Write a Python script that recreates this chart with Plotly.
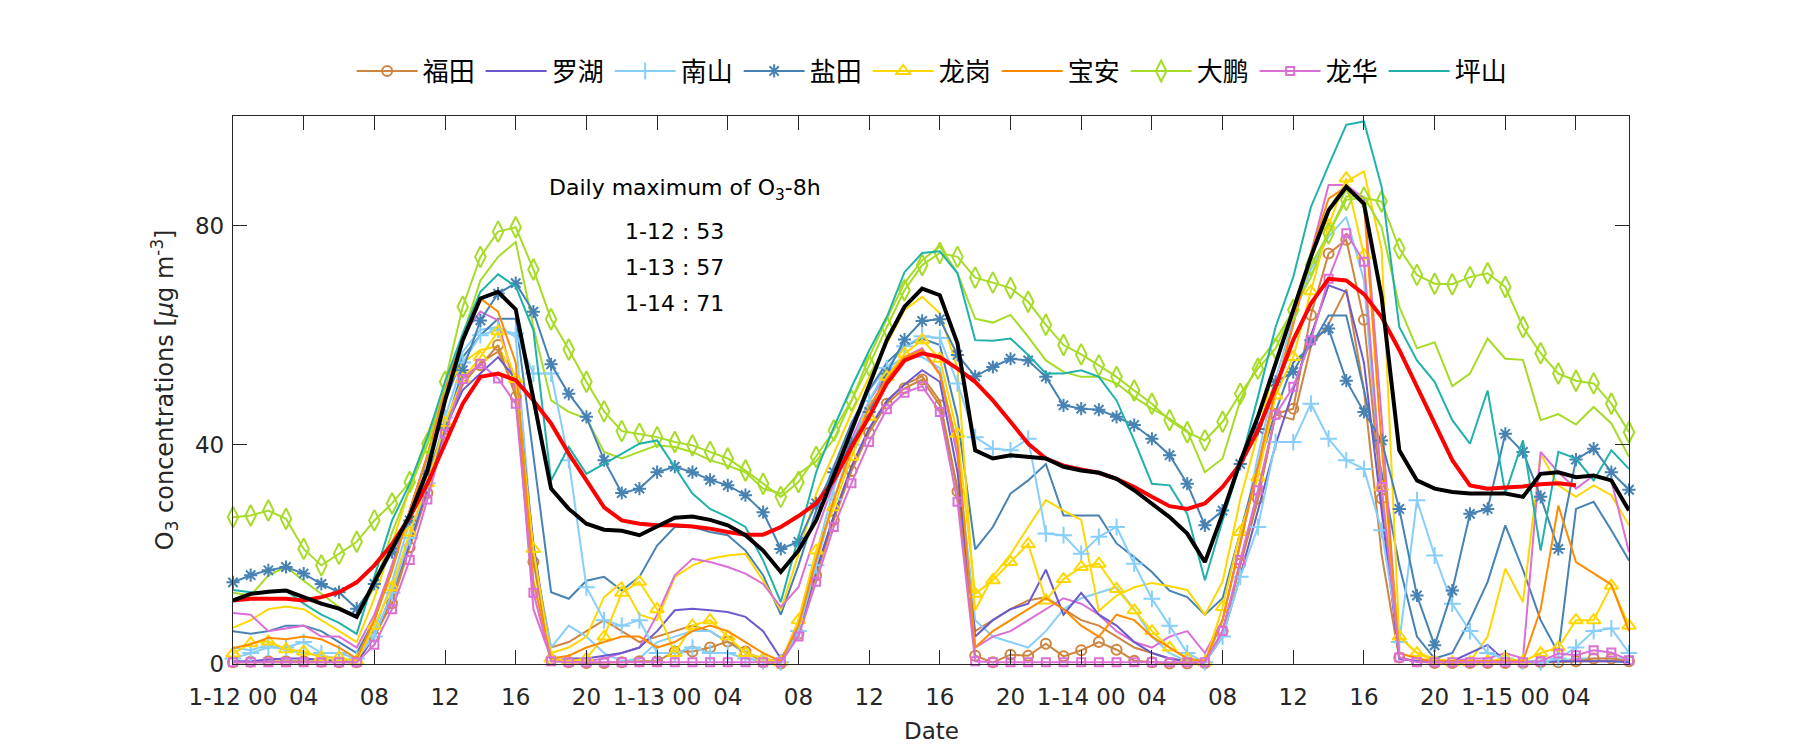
import plotly.graph_objects as go

HOURS = list(range(80))
TICK_HOURS = [0, 4, 8, 12, 16, 20, 24, 28, 32, 36, 40, 44, 48, 52, 56, 60, 64, 68, 72, 76]
TICK_LABELS = ["1-12 00", "04", "08", "12", "16", "20", "1-13 00", "04", "08", "12", "16", "20",
               "1-14 00", "04", "08", "12", "16", "20", "1-15 00", "04"]
Y_TICKS = [0, 40, 80]

futian = [0.3,0.4,0.5,0.5,0.5,0.4,0.3,0.3,5.0,11.1,
          21.3,31.2,42.9,52.4,54.5,58.2,48.7,18.6,0.8,0.3,
          0.2,0.2,0.3,0.5,0.5,2.3,2.3,3.0,4.1,2.3,
          0.3,0.1,5.5,16.2,26.3,35.2,42.2,47.5,50.3,51.9,
          47.2,31.5,1.5,0.3,1.7,1.5,3.7,1.4,2.5,4.0,
          2.6,0.6,0.3,0.1,0.1,0.2,6.0,18.3,30.2,45.6,
          46.6,63.7,74.9,77.4,62.8,30.2,1.2,0.5,0.2,0.2,
          0.2,0.2,0.2,0.2,0.3,0.3,0.5,1.0,1.0,0.5]
luohu = [0.5,0.5,0.8,1.0,1.0,0.8,0.5,0.3,5.0,13.0,
         22.0,32.0,43.0,50.0,53.0,56.0,52.0,22.0,0.5,1.0,
         1.0,1.5,2.0,3.0,6.0,9.8,10.1,9.8,9.5,8.6,
         6.0,1.0,6.0,17.0,27.0,36.0,43.0,48.0,51.0,53.6,
         51.5,35.0,5.0,8.0,10.0,11.0,17.2,9.0,13.0,9.0,
         7.0,4.0,2.0,1.0,0.5,0.3,5.0,16.0,28.0,40.0,
         50.0,60.0,69.1,67.9,55.0,28.0,1.0,0.5,0.3,0.5,
         2.0,3.5,0.5,0.3,0.3,0.5,0.5,0.5,0.5,0.3]
nanshan = [1.0,2.0,3.0,3.0,4.0,2.0,2.0,1.0,5.0,13.0,
           23.0,33.0,45.0,55.0,60.0,61.0,60.3,53.0,53.0,37.2,
           14.0,8.0,7.0,8.0,2.0,2.0,3.0,2.0,2.0,1.0,
           0.5,0.3,6.0,18.0,30.0,40.0,48.0,54.0,58.0,59.8,
           59.5,51.2,41.4,39.3,39.0,41.1,23.8,23.5,20.1,23.2,
           25.0,18.3,11.9,7.0,2.0,0.3,5.0,15.9,25.0,40.5,
           40.5,47.5,41.1,37.2,35.6,24.4,4.0,29.9,19.8,11.0,
           6.0,2.0,1.0,0.5,0.3,1.0,3.0,6.0,6.5,2.0]
yantian = [14.9,16.2,17.1,17.7,16.5,14.6,13.1,10.1,14.6,20.4,
           26.2,34.7,43.0,53.6,62.7,67.6,69.5,64.3,54.7,49.3,
           45.1,37.2,31.2,32.0,35.0,36.0,35.0,33.6,32.6,30.8,
           27.7,21.0,22.3,29.3,35.0,40.2,46.0,53.0,59.2,62.6,
           62.9,56.4,52.5,54.2,55.7,55.4,52.4,47.2,46.6,46.4,
           45.1,43.6,41.1,38.1,32.9,25.3,28.0,36.5,42.9,51.5,
           53.3,59.1,61.2,51.7,46.0,40.8,28.3,12.5,3.4,13.4,
           27.4,28.3,42.0,38.7,30.5,21.0,37.3,39.3,35.0,31.8]
longgang = [1.9,3.8,4.1,2.7,2.3,1.2,1.2,0.5,7.0,14.0,
            24.0,33.0,44.0,52.0,56.0,60.7,52.0,21.0,1.0,0.5,
            1.0,5.0,13.0,15.0,10.0,2.0,7.0,8.0,5.0,2.0,
            1.0,0.3,8.0,20.7,28.6,37.8,45.1,52.4,56.6,59.1,
            55.7,42.0,12.8,15.3,18.6,21.9,11.6,15.5,17.7,18.3,
            13.7,9.8,6.0,3.0,1.0,0.3,10.4,24.1,34.1,49.0,
            56.0,68.0,80.0,88.6,74.6,32.3,5.0,2.0,0.5,0.3,
            0.3,0.5,1.0,0.5,2.0,3.0,8.0,8.0,14.3,7.0]
baoan = [2.9,3.6,4.8,4.5,5.0,4.5,3.0,1.0,8.0,17.0,
         28.0,38.0,50.0,60.0,66.7,64.3,55.0,15.0,1.0,1.5,
         3.0,4.0,5.0,5.0,3.0,4.0,6.0,7.0,6.0,4.0,
         2.0,0.5,7.0,19.0,30.0,39.0,47.0,52.0,56.0,57.3,
         52.8,40.0,3.0,6.0,8.0,10.0,12.0,10.0,7.0,5.0,
         9.0,8.0,5.0,3.0,1.0,0.5,8.0,22.0,36.0,50.0,
         62.0,75.0,84.9,87.1,84.0,40.0,2.0,1.0,0.5,0.5,
         0.5,0.5,0.5,0.5,10.0,28.9,18.6,16.5,14.5,6.0]
dapeng = [26.8,27.1,28.0,26.5,21.0,18.0,20.1,22.3,26.2,29.3,
          33.2,40.2,51.5,65.2,74.3,78.9,79.7,72.0,62.9,57.4,
          51.5,46.1,42.5,42.0,41.4,40.5,39.9,38.7,37.5,35.3,
          32.9,30.5,33.2,37.8,42.6,48.1,54.5,61.5,68.2,72.8,
          75.0,74.3,70.5,69.6,68.6,66.1,61.9,58.2,56.5,54.5,
          52.4,49.9,47.5,44.5,42.3,40.8,44.2,49.3,53.9,57.6,
          64.6,72.8,78.6,84.7,85.1,84.4,75.8,71.0,69.4,69.3,
          70.6,71.3,68.8,61.5,56.7,53.0,51.7,51.2,47.5,42.3]
longhua = [0.3,0.3,0.3,0.3,0.3,0.3,0.3,0.3,3.5,10.0,
           19.0,30.0,42.0,52.0,54.8,52.1,47.5,13.0,0.5,0.3,
           0.3,0.3,0.3,0.3,0.3,0.3,0.3,0.3,0.3,0.3,
           0.3,0.3,5.0,15.0,25.0,33.0,40.5,46.5,49.5,50.7,
           46.0,29.6,0.5,0.3,0.3,0.3,0.3,0.3,0.3,0.3,
           0.3,0.3,0.3,0.3,0.3,0.3,6.0,19.0,31.7,45.5,
           50.6,59.1,70.3,78.6,73.4,32.3,1.2,0.3,0.3,0.3,
           0.3,0.3,0.3,0.3,0.5,1.9,1.6,2.5,2.1,0.7]
pingshan = [13.5,13.1,13.2,13.4,11.0,9.0,7.5,5.5,15.9,26.2,
            32.9,41.4,51.5,60.3,67.9,71.1,68.9,60.9,33.5,39.6,
            34.7,36.5,38.4,40.2,40.8,36.0,31.1,28.3,26.8,25.0,
            18.9,11.3,23.2,35.0,43.2,50.5,57.2,63.3,71.5,75.0,
            75.3,71.3,59.1,59.0,59.4,56.4,53.0,53.0,53.6,52.4,
            48.1,40.8,32.9,32.6,27.4,15.3,26.2,36.5,48.7,61.5,
            70.6,83.4,91.0,98.4,99.0,87.1,61.5,55.4,51.5,44.5,
            40.2,49.9,31.1,40.8,20.7,38.7,37.5,33.5,39.0,35.6]

# second set of stations (same district colours, drawn without markers, not in legend)
futian_b = [0.3,0.3,0.3,0.3,0.3,0.3,0.3,0.3,5.0,12.0,
            22.0,32.0,43.0,51.0,55.0,57.0,50.0,20.0,3.0,4.0,
            6.0,8.0,6.0,4.0,5.0,6.0,7.0,6.0,4.0,2.0,
            1.0,0.5,6.0,17.0,27.0,36.0,43.0,48.0,51.0,52.5,
            48.0,32.0,6.0,8.0,10.0,11.6,12.2,10.0,8.0,7.0,
            5.0,3.0,2.0,1.0,0.5,0.3,6.0,18.0,30.0,45.5,
            44.6,58.0,62.0,68.4,50.0,20.0,1.0,0.5,0.5,0.5,
            0.5,0.5,0.5,0.5,0.5,0.5,0.5,0.5,0.5,0.5]
nanshan_b = [3.0,2.5,3.5,2.5,2.0,1.5,1.0,0.5,6.0,15.0,
             26.0,37.0,48.0,57.0,61.0,61.5,59.7,20.0,3.0,7.0,
             5.0,2.0,0.5,1.0,4.0,5.0,6.0,6.0,4.0,2.0,
             1.0,0.3,8.0,20.0,32.0,42.0,50.0,54.0,56.0,56.0,
             54.0,38.0,8.0,5.0,4.0,3.0,6.0,10.0,12.0,13.0,
             14.0,10.0,5.0,2.0,0.5,0.3,8.0,22.0,38.0,52.0,
             63.0,72.0,78.0,81.6,70.0,30.0,1.0,0.5,0.5,0.5,
             0.5,0.5,0.5,0.5,0.5,0.5,1.0,1.0,1.0,1.0]
yantian_b = [6.0,5.5,6.0,7.0,7.0,6.0,4.0,2.0,8.0,18.0,
             28.0,38.0,48.0,56.0,60.0,63.0,63.0,38.0,13.1,11.9,
             15.2,15.9,13.4,15.9,21.6,25.0,25.0,24.1,23.5,20.7,
             16.2,9.0,18.0,28.0,36.0,44.0,50.0,55.0,58.0,59.4,
             58.2,45.0,20.9,25.0,31.1,33.5,36.5,27.1,27.1,27.1,
             22.0,19.5,16.8,13.4,12.2,9.0,12.0,24.0,36.0,46.0,
             55.0,58.0,63.6,63.6,50.0,35.0,18.0,5.0,1.0,2.0,
             8.0,15.0,25.3,17.2,8.0,2.0,28.3,29.6,24.4,18.9]
longgang_b = [6.6,8.0,10.0,10.5,10.0,8.0,6.0,4.0,12.0,22.0,
              32.0,42.0,50.0,55.0,57.3,58.0,52.0,15.0,2.0,3.0,
              5.0,12.2,14.9,9.0,8.0,15.9,18.0,19.2,19.8,20.1,
              15.2,9.8,20.0,31.1,38.4,45.8,52.4,58.5,64.6,67.0,
              64.0,53.9,9.8,16.0,20.0,25.0,29.9,28.0,26.3,9.7,
              12.5,14.0,14.8,14.2,13.5,9.0,15.0,30.0,42.0,55.0,
              65.0,75.0,83.0,88.0,89.9,75.6,5.0,2.0,1.0,0.5,
              0.5,5.0,17.4,11.3,38.3,32.6,30.5,32.6,30.8,25.3]
dapeng_b = [13.0,12.5,16.2,17.7,15.2,12.8,10.4,8.5,14.0,24.0,
            32.0,40.0,50.0,60.0,70.0,74.3,77.0,61.5,48.1,46.0,
            44.8,38.7,37.5,38.7,39.9,39.6,38.7,37.2,36.2,35.0,
            32.0,31.1,34.7,37.0,41.0,48.0,56.0,63.0,69.5,73.7,
            76.2,71.3,63.0,62.3,63.7,59.7,55.4,53.3,52.4,52.4,
            51.2,48.7,46.6,44.8,42.6,35.0,37.5,48.1,54.8,59.1,
            64.6,70.6,78.6,85.3,85.3,79.7,65.2,57.6,58.7,50.7,
            53.0,59.4,55.7,55.5,44.5,45.6,43.7,46.9,43.9,37.8]
longhua_b = [9.3,9.0,6.0,6.5,7.0,5.0,5.0,3.0,9.0,18.0,
             28.0,38.0,50.0,60.0,64.3,62.7,50.0,10.0,1.0,0.5,
             0.5,1.0,2.0,3.0,9.0,16.2,19.2,18.6,17.7,16.5,
             14.6,10.4,14.0,24.0,33.0,41.0,48.0,53.0,56.0,57.6,
             53.0,38.0,3.0,5.0,6.0,8.0,10.0,12.0,11.0,9.0,
             6.0,4.0,3.0,5.0,6.0,2.0,8.0,22.0,36.0,50.0,
             62.0,75.0,87.4,87.4,85.0,45.0,1.0,0.5,0.5,0.5,
             1.0,1.0,2.0,1.0,38.7,35.0,32.0,34.4,33.5,20.4]

mean_all = [11.6,12.8,13.2,13.4,12.2,11.0,10.1,8.6,15.0,21.0,
            27.1,35.3,48.1,59.1,66.7,67.9,64.7,48.4,32.0,28.3,
            25.6,24.5,24.3,23.5,25.0,26.7,26.9,26.3,25.3,23.5,
            20.7,16.8,20.7,26.2,34.4,42.6,50.6,59.1,65.2,68.5,
            67.3,58.5,39.0,37.5,38.1,37.8,37.5,36.0,35.3,34.9,
            33.8,31.7,29.3,26.8,23.8,18.6,27.4,36.9,45.1,54.8,
            64.6,74.3,82.8,87.1,84.0,67.0,39.0,33.5,32.0,31.4,
            31.1,31.1,31.1,30.5,34.7,35.0,34.1,34.4,33.5,28.0]
mda8 = [11.6,11.9,11.9,11.9,11.6,12.2,13.1,14.9,18.0,21.9,
        26.8,32.9,40.2,47.5,52.4,53.0,51.8,48.1,43.9,38.4,
        33.5,28.6,26.2,25.6,25.3,25.3,25.1,24.7,24.1,23.6,
        23.6,25.0,27.0,29.3,33.5,39.6,45.1,51.2,55.4,56.7,
        56.0,53.9,51.5,48.1,44.2,40.2,37.5,36.2,35.5,34.9,
        33.8,32.3,30.5,28.8,28.3,29.3,32.3,36.5,42.6,50.6,
        59.1,65.8,70.3,70.0,67.5,63.3,57.3,50.6,43.9,37.2,
        32.6,32.0,32.2,32.4,32.8,33.0,32.6,None,None,None]

DAILY_MAX = [("1-12", 53), ("1-13", 57), ("1-14", 71)]

C = dict(peru="#CD853F", slate="#6A5ACD", sky="#87CEFA", steel="#4682B4", gold="#FFD700",
         orange="#FF8C00", yg="#A6DC28", orchid="#DA70D6", teal="#20B2AA")

TXT = "DejaVu Sans"
fig = go.Figure()

legend_series = [
    ("福田", futian, C["peru"], "circle-open", 10),
    ("罗湖", luohu, C["slate"], None, 0),
    ("南山", nanshan, C["sky"], "cross-thin-open", 12),
    ("盐田", yantian, C["steel"], "asterisk-open", 11),
    ("龙岗", longgang, C["gold"], "triangle-up-open", 12),
    ("宝安", baoan, C["orange"], None, 0),
    ("大鹏", dapeng, C["yg"], "diamond-tall-open", 15),
    ("龙华", longhua, C["orchid"], "square-open", 8),
    ("坪山", pingshan, C["teal"], None, 0),
]
extra_series = [
    (futian_b, C["peru"]), (nanshan_b, C["sky"]), (yantian_b, C["steel"]),
    (longgang_b, C["gold"]), (dapeng_b, C["yg"]), (longhua_b, C["orchid"]),
]

for vals, col in extra_series:
    fig.add_trace(go.Scatter(x=HOURS, y=vals, mode="lines", line=dict(color=col, width=2),
                             showlegend=False, cliponaxis=False, hoverinfo="skip"))

for name, vals, col, sym, size in legend_series:
    if sym:
        fig.add_trace(go.Scatter(x=HOURS, y=vals, name=name, mode="lines+markers",
                                 line=dict(color=col, width=2),
                                 marker=dict(symbol=sym, size=size, color=col,
                                             line=dict(color=col, width=2)),
                                 cliponaxis=False))
    else:
        fig.add_trace(go.Scatter(x=HOURS, y=vals, name=name, mode="lines",
                                 line=dict(color=col, width=2), cliponaxis=False))

fig.add_trace(go.Scatter(x=HOURS, y=mda8, mode="lines", line=dict(color="#FF0000", width=4),
                         showlegend=False, cliponaxis=False))
fig.add_trace(go.Scatter(x=HOURS, y=mean_all, mode="lines", line=dict(color="#000000", width=4),
                         showlegend=False, cliponaxis=False))

axis_common = dict(showline=True, linecolor="#262626", linewidth=1.3, mirror="ticks",
                   ticks="inside", ticklen=14, tickwidth=1.3, tickcolor="#262626",
                   showgrid=False, zeroline=False,
                   tickfont=dict(family=TXT, size=23, color="#262626"))

fig.update_xaxes(range=[0, 79], tickvals=TICK_HOURS, ticktext=TICK_LABELS,
                 ticklabelstandoff=12, **axis_common)
fig.update_yaxes(range=[0, 100], tickvals=Y_TICKS, ticklabelstandoff=3, **axis_common)

annotations = [
    dict(text="Daily maximum of O<sub>3</sub>-8h", x=25.6, y=86.5, xref="x", yref="y",
         showarrow=False, font=dict(family=TXT, size=22, color="#000000")),
]
for i, (day, val) in enumerate(DAILY_MAX):
    annotations.append(dict(text=f"{day} : {val}", x=25.0, y=78.9 - i * 6.6, xref="x", yref="y",
                            showarrow=False, font=dict(family=TXT, size=22, color="#000000")))
annotations.append(dict(text="Date", x=0.5, y=-0.15, xref="paper", yref="paper", showarrow=False,
                        font=dict(family=TXT, size=23, color="#262626")))
annotations.append(dict(text="O<sub>3</sub> concentrations [<i>μ</i>g m<sup>-3</sup>]",
                        x=-0.0633, y=0.5, xref="paper", yref="paper", showarrow=False,
                        textangle=-90, font=dict(family=TXT, size=24, color="#262626")))

fig.update_layout(
    width=1800, height=750,
    margin=dict(l=225, r=179, t=108, b=94, pad=0),
    plot_bgcolor="white", paper_bgcolor="white",
    font=dict(family=TXT, size=23, color="#262626"),
    legend=dict(orientation="h", x=0.085, xanchor="left", y=1.082, yanchor="middle",
                font=dict(family="Noto Sans CJK SC", size=26, color="#000000"),
                itemwidth=61, entrywidth=53, entrywidthmode="pixels",
                bgcolor="rgba(0,0,0,0)"),
    annotations=annotations,
)

fig.write_html("out.html")
